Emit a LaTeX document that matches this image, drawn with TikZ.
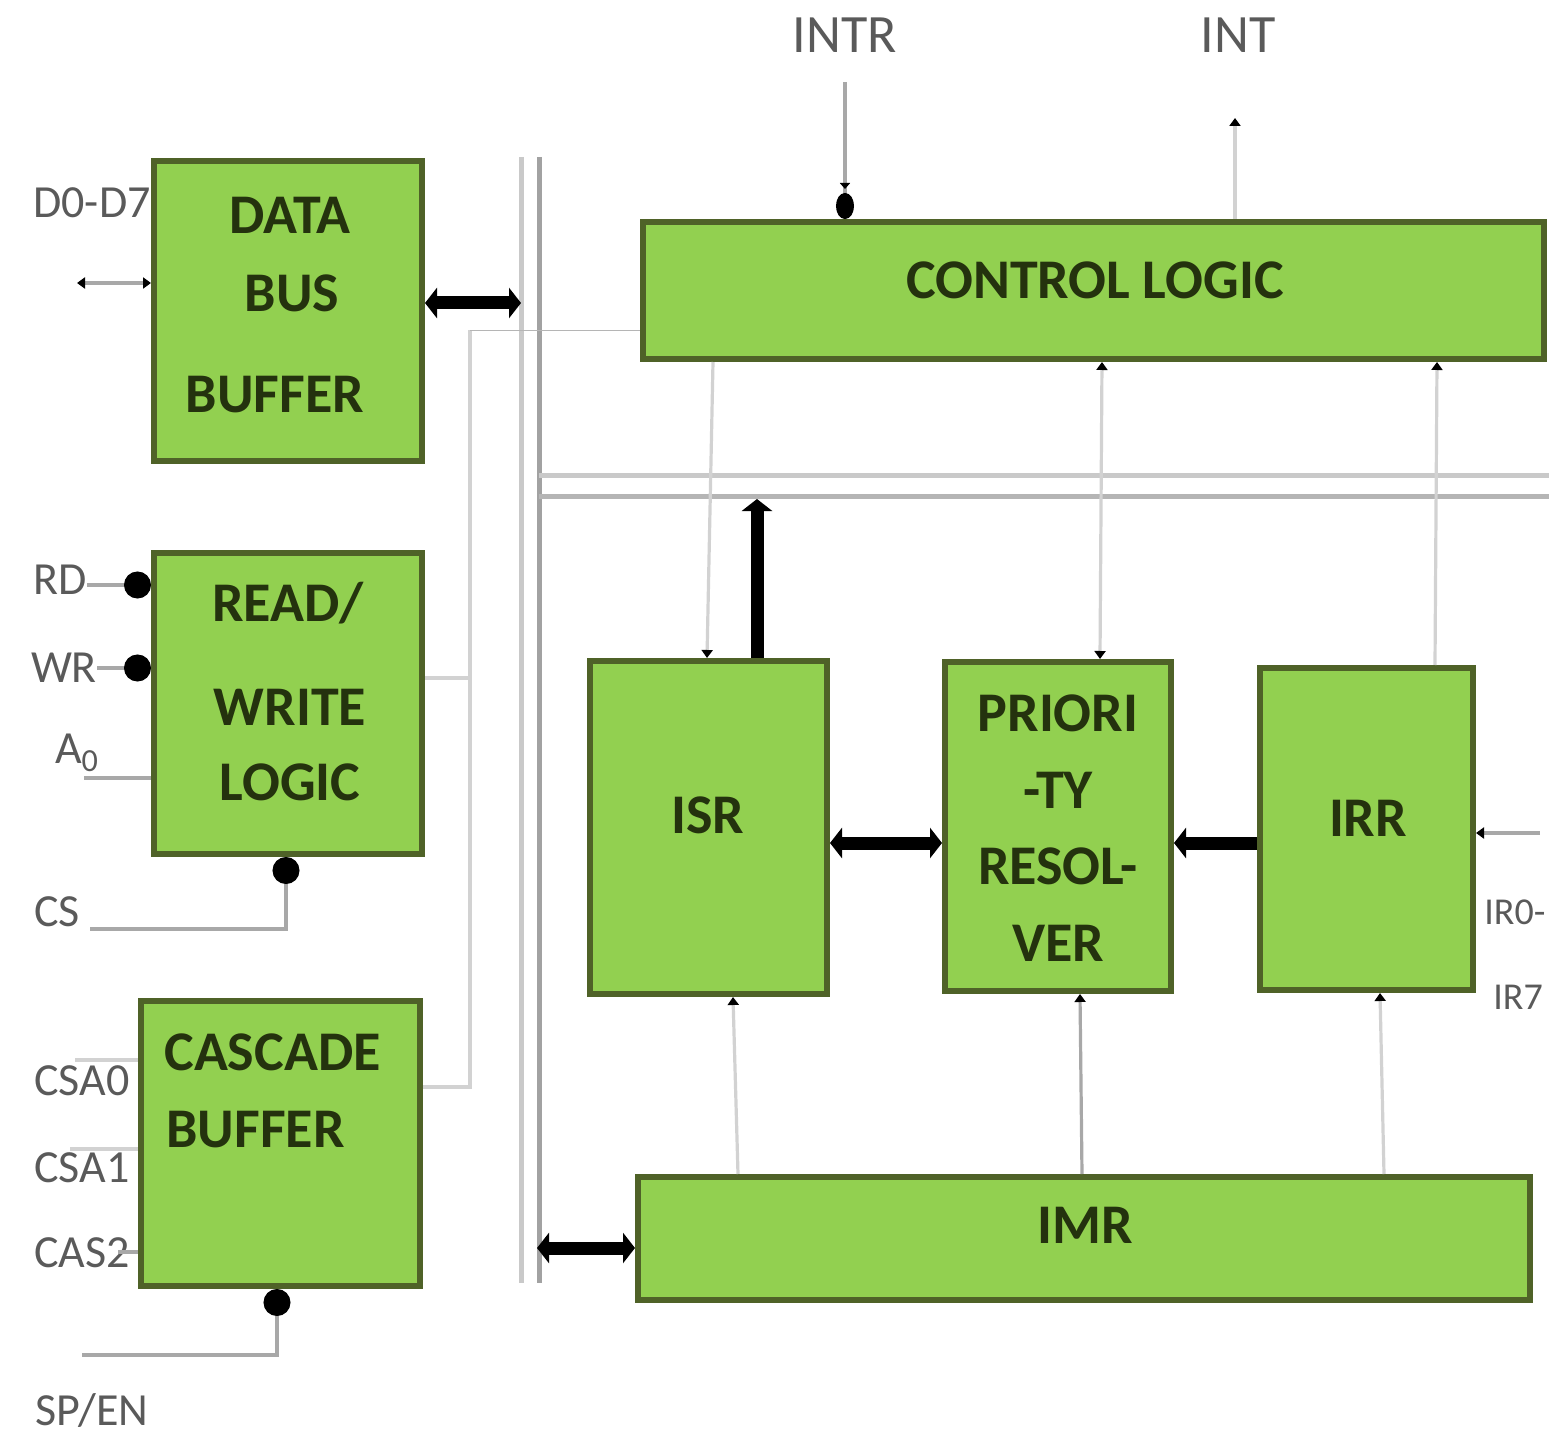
\documentclass[tikz,border=0pt]{standalone}
\usepackage{fontspec}
\setmainfont{Carlito}
\usetikzlibrary{arrows.meta,fit}

\definecolor{boxfill}{HTML}{92D050}
\definecolor{boxline}{HTML}{4F6228}
\definecolor{boxtext}{HTML}{24320E}
\definecolor{wire}{HTML}{A8A8A8}
\definecolor{wirelight}{HTML}{D2D2D2}
\definecolor{pinlabel}{HTML}{5A5A5A}
\definecolor{busdark}{HTML}{A2A2A2}
\definecolor{buslight}{HTML}{C9C9C9}

\tikzset{
  blk/.style={draw=boxline, fill=boxfill, line width=3pt, inner sep=0pt},
  btxt/.style={font=\fontsize{28}{30}\selectfont\bfseries, text=boxtext, inner sep=0pt},
  pin/.style={font=\fontsize{23}{25}\selectfont, text=pinlabel, inner sep=0pt},
  pinsmall/.style={font=\fontsize{19}{21}\selectfont, text=pinlabel, inner sep=0pt},
  sig/.style={font=\fontsize{27}{29}\selectfont, text=pinlabel, inner sep=0pt},
  wire/.style={draw=wire, line width=1.6pt},
  wirel/.style={draw=wirelight, line width=1.6pt},
  busline/.style={line width=2.5pt},
  sm/.tip={Triangle[length=4pt,width=5.5pt,color=black]},
  pindot/.tip={Circle[length=13.5pt,color=black]},
  intrtip/.tip={Triangle[length=3pt,width=5pt,color=black,sep=2pt] Ellipse[length=13pt,width=9pt,color=black]},
  fat/.tip={Triangle[length=6pt,width=15pt]},
  fatboth/.style={draw=black, line width=6.5pt, fat-fat},
  fatone/.style={draw=black, line width=6.5pt, -fat},
}

\begin{document}
\begin{tikzpicture}[x=0.5pt,y=-0.5pt]
\useasboundingbox (0,0) rectangle (1549,1439);

% internal bus: vertical pair and horizontal pair
\draw[busline, draw=buslight] (521,157) -- (521,1283);
\draw[busline, draw=busdark] (539,157) -- (539,1283);
\draw[busline, draw=buslight] (539,476) -- (1560,476);
\draw[busline, draw=buslight!90!black] (539,496) -- (1560,496);

% blocks
\node[blk, fit={(154,161) (422,461)}] (dbb) {};
\node[blk, fit={(154,553) (422,854)}] (rwl) {};
\node[blk, fit={(141,1001) (420,1286)}] (cb) {};
\node[blk, fit={(643,222) (1544,359)}] (cl) {};
\node[blk, fit={(590,661) (827,994)}] (isr) {};
\node[blk, fit={(945,662) (1171,991)}] (pr) {};
\node[blk, fit={(1260,668) (1473,990)}] (irr) {};
\node[blk, fit={(638,1177) (1530,1300)}] (imr) {};

% block titles
\node[btxt] (t-data) at (290,215) {DATA};
\node[btxt] (t-bus) at (292,293) {BUS};
\node[btxt] (t-buf1) at (275,395) {BUFFER};
\node[btxt] (t-read) at (288,603) {READ/};
\node[btxt] (t-write) at (290,707) {WRITE};
\node[btxt] (t-logic) at (290,782) {LOGIC};
\node[btxt, anchor=west] (t-casc) at (164,1052) {CASCADE};
\node[btxt, anchor=west] (t-buf2) at (166,1130) {BUFFER};
\node[btxt] (t-cl) at (1095,280) {CONTROL LOGIC};
\node[btxt] (t-isr) at (708,815) {ISR};
\node[btxt] (t-pr1) at (1058,713) {PRIORI};
\node[btxt] (t-pr2) at (1058,790) {-TY};
\node[btxt] (t-pr3) at (1058,866) {RESOL-};
\node[btxt] (t-pr4) at (1058,943) {VER};
\node[btxt] (t-irr) at (1368,818) {IRR};
\node[btxt] (t-imr) at (1085,1225) {IMR};

% pin and signal labels
\node[pin] (l-d) at (92,203) {D0-D7};
\node[pin] (l-rd) at (60,580) {RD};
\node[pin] (l-wr) at (64,668) {WR};
\node[pin] (l-a0) at (77,753) {A\textsubscript{0}};
\node[pin] (l-cs) at (57,912) {CS};
\node[pin] (l-csa0) at (82,1081) {CSA0};
\node[pin] (l-csa1) at (82,1168) {CSA1};
\node[pin] (l-cas) at (82,1253) {CAS2};
\node[pin] (l-sp) at (92,1410) {SP/EN};
\node[pinsmall, anchor=west] (l-ir0) at (1484,912) {IR0-};
\node[pinsmall, anchor=west] (l-ir7) at (1493,997) {IR7};
\node[sig] (l-intr) at (845,35) {INTR};
\node[sig] (l-int) at (1238,35) {INT};

% free ends of the outside wires
\coordinate (d-end) at (77,283);
\coordinate (intr-end) at (845,82);
\coordinate (int-end) at (1235,118);
\coordinate (ir-end) at (1540,833);
\coordinate (bus-l) at (521,303);
\coordinate (bus-h) at (757,499);
\coordinate (bus-r) at (537,1248);
\coordinate (tap) at (470,330);

% data bus side
\draw[wire, sm-sm] (d-end) -- (dbb.west |- d-end);
\draw[fatboth] (dbb.east |- bus-l) -- (bus-l);

% read/write inputs
\draw[wire, -pindot] (l-rd.east |- 0,585) -- (rwl.west |- 0,585);
\draw[wire, -pindot] (l-wr.east |- 0,668) -- (rwl.west |- 0,668);
\draw[wire] (84,778) -- (rwl.west |- 0,778);
\draw[wire, -pindot] (90,929) -| (rwl.south -| 286,0);

% cascade inputs
\draw[wirel] (75,1060) -- (cb.west |- 0,1060);
\draw[wirel] (70,1149) -- (cb.west |- 0,1149);
\draw[wire] (118,1252) -- (cb.west |- 0,1252);
\draw[wire, -pindot] (82,1355) -| (cb.south -| 277,0);

% control wire from the left blocks to control logic
\draw[wirel] (cb.east |- 0,1087) -| (tap);
\draw[wirel] (rwl.east |- 0,678) -- (tap |- 0,678);
\draw[wire!85!white] (tap) -- (cl.west |- tap);

% control logic connections
\draw[wire, -intrtip] (intr-end) -- (cl.north -| intr-end);
\draw[wirel, -sm] (cl.north -| int-end) -- (int-end);
\draw[wirel, -sm] (cl.south -| 713,0) -- (isr.north -| 707,0);
\draw[wirel, sm-sm] (cl.south -| 1102,0) -- (pr.north -| 1100,0);
\draw[wirel, sm-] (cl.south -| 1437,0) -- (irr.north -| 1435,0);

% data paths between the registers
\draw[fatone] (isr.north -| bus-h) -- (bus-h);
\draw[fatboth] (isr.east |- 0,843) -- (pr.west |- 0,843);
\draw[fatone] (irr.west |- 0,843) -- (pr.east |- 0,843);
\draw[fatboth] (bus-r) -- (imr.west |- bus-r);
\draw[wire, -sm] (ir-end) -- (irr.east |- ir-end);

% mask register to the registers above
\draw[wirel, -sm] (imr.north -| 738,0) -- (isr.south -| 733,0);
\draw[wire, -sm] (imr.north -| 1082,0) -- (pr.south -| 1080,0);
\draw[wirel, -sm] (imr.north -| 1384,0) -- (irr.south -| 1380,0);
\end{tikzpicture}
\end{document}
